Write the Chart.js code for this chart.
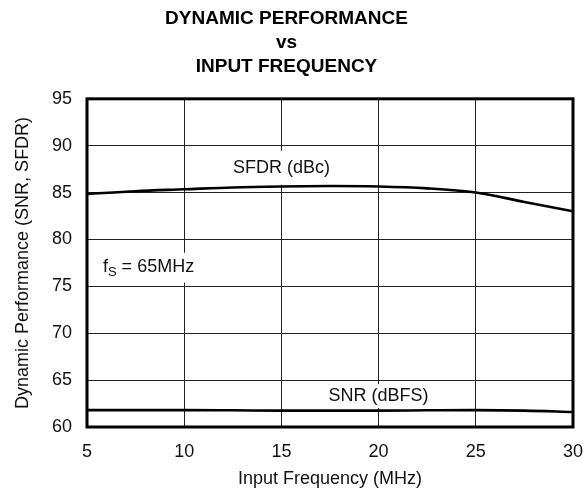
<!DOCTYPE html>
<html>
<head>
<meta charset="utf-8">
<script src="https://cdn.jsdelivr.net/npm/chart.js@4/dist/chart.umd.min.js"></script>
<style>
  html, body { margin: 0; padding: 0; background: #fff; }
  #wrap { width: 587px; height: 490px; }
</style>
</head>
<body>
<div id="wrap"><canvas id="grafico"></canvas></div>
<script>
// Dados
const frequencias = [5, 7.5, 10, 12.5, 15, 17.5, 20, 22.5, 25, 27.5, 30];
const sfdr = [84.85, 85.15, 85.35, 85.55, 85.65, 85.7, 85.65, 85.45, 85.0, 84.0, 83.0];
const snr = [61.8, 61.8, 61.8, 61.78, 61.75, 61.75, 61.75, 61.78, 61.8, 61.75, 61.6];
const ticksY = [60, 65, 70, 75, 80, 85, 90, 95];
const ticksX = [5, 10, 15, 20, 25, 30];

// Rótulos dentro do gráfico (posição em unidades dos eixos)
const rotulos = [
  { texto: "SFDR (dBc)", x: 15, y: 87.65, caixa: 34 },
  { texto: "SNR (dBFS)", x: 20, y: 63.3, caixa: 24 },
  { texto: "fs", x: 5.82, y: 77.1, caixa: 30 }
];

const fonte = "'Liberation Sans', Arial, Helvetica, sans-serif";

const pluginRotulos = {
  id: "rotulos",
  beforeDatasetsDraw(chart) {
    const { ctx, scales } = chart;
    ctx.save();
    ctx.font = "18px " + fonte;
    ctx.textBaseline = "middle";
    rotulos.forEach(r => {
      const px = scales.x.getPixelForValue(r.x);
      const py = scales.y.getPixelForValue(r.y);
      const h = r.caixa;
      if (r.texto === "fs") {
        ctx.font = "18px " + fonte;
        const w1 = ctx.measureText("f").width;
        ctx.font = "13px " + fonte;
        const w2 = ctx.measureText("S").width;
        ctx.font = "18px " + fonte;
        const w3 = ctx.measureText(" = 65MHz").width;
        ctx.fillStyle = "#fff";
        ctx.fillRect(px - 6, py - h / 2 + 1, w1 + w2 + w3 + 12, h);
        ctx.fillStyle = "#111";
        ctx.textAlign = "left";
        ctx.fillText("f", px, py);
        ctx.font = "13px " + fonte;
        ctx.fillText("S", px + w1, py + 6);
        ctx.font = "18px " + fonte;
        ctx.fillText(" = 65MHz", px + w1 + w2, py);
      } else {
        const largura = ctx.measureText(r.texto).width;
        ctx.fillStyle = "#fff";
        ctx.fillRect(px - largura / 2 - 6, py - h / 2, largura + 12, h);
        ctx.fillStyle = "#111";
        ctx.textAlign = "center";
        ctx.fillText(r.texto, px, py);
      }
    });
    ctx.restore();
  },
  afterDatasetsDraw(chart) {
    const { ctx, chartArea: a } = chart;
    ctx.save();
    ctx.strokeStyle = "#000";
    ctx.lineWidth = 3;
    ctx.strokeRect(a.left, a.top, a.right - a.left, a.bottom - a.top);
    ctx.restore();
  }
};

const serie = (label, data) => ({
  label,
  data: frequencias.map((f, i) => ({ x: f, y: data[i] })),
  borderColor: "#000",
  borderWidth: 2.6,
  pointRadius: 0,
  fill: false,
  cubicInterpolationMode: "monotone"
});

new Chart(document.getElementById("grafico"), {
  type: "line",
  data: { datasets: [serie("SFDR (dBc)", sfdr), serie("SNR (dBFS)", snr)] },
  options: {
    responsive: true,
    maintainAspectRatio: false,
    animation: false,
    layout: { padding: { left: 0, right: 14, top: 0, bottom: 0 } },
    plugins: {
      legend: { display: false },
      tooltip: { enabled: false },
      title: {
        display: true,
        text: ["DYNAMIC PERFORMANCE", "vs", "INPUT FREQUENCY"],
        color: "#000",
        font: { family: fonte, size: 19, weight: "bold", lineHeight: 1.26 },
        padding: { top: 7, bottom: 20 }
      }
    },
    scales: {
      x: {
        type: "linear",
        min: 5,
        max: 30,
        afterBuildTicks: s => { s.ticks = ticksX.map(v => ({ value: v })); },
        afterFit: s => { s.height = 63; s.paddingLeft = 0; s.paddingRight = 0; },
        grid: { color: "#222", lineWidth: 1, drawTicks: false },
        border: { display: false },
        ticks: { color: "#111", font: { family: fonte, size: 18 }, padding: 14 },
        title: {
          display: true,
          text: "Input Frequency (MHz)",
          color: "#111",
          font: { family: fonte, size: 18 },
          padding: { top: 4, bottom: 0 }
        }
      },
      y: {
        min: 60,
        max: 95,
        afterBuildTicks: s => { s.ticks = ticksY.map(v => ({ value: v })); },
        afterFit: s => { s.width = 87; s.paddingTop = 0; s.paddingBottom = 0; },
        grid: { color: "#222", lineWidth: 1, drawTicks: false },
        border: { display: false },
        ticks: { color: "#111", font: { family: fonte, size: 18 }, padding: 15 },
        title: {
          display: true,
          text: "Dynamic Performance (SNR, SFDR)",
          color: "#111",
          font: { family: fonte, size: 18 },
          padding: { top: 12, bottom: 4 }
        }
      }
    }
  },
  plugins: [pluginRotulos]
});
</script>
</body>
</html>
